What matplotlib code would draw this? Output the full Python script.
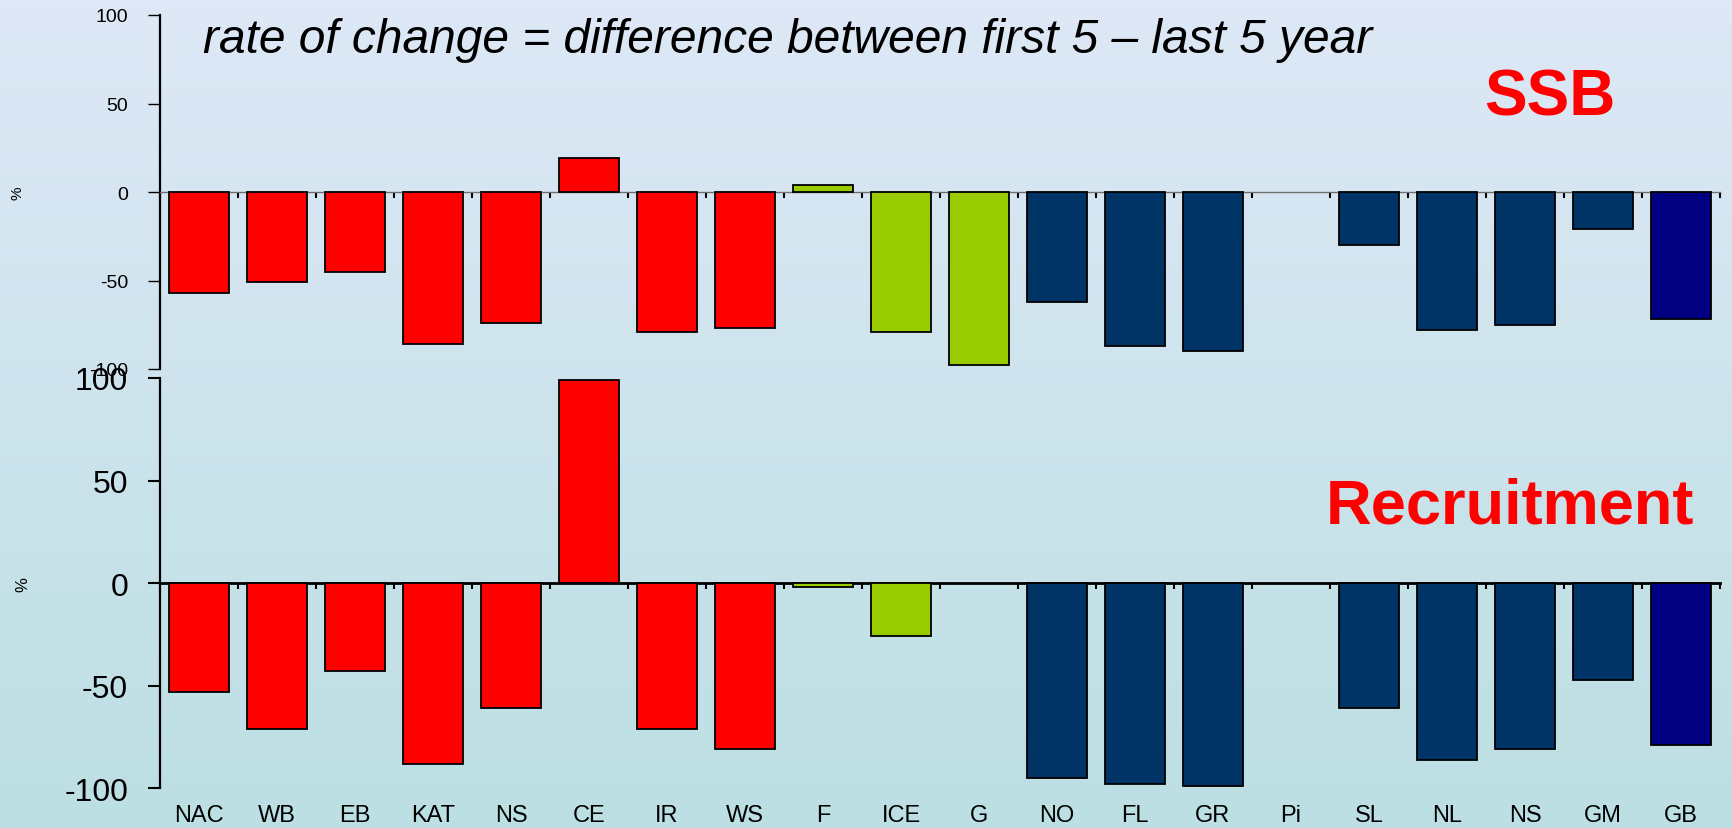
import numpy as np
import matplotlib
matplotlib.use("Agg")
import matplotlib.pyplot as plt
from matplotlib.colors import to_rgb

plt.rcParams.update({
    "font.family": "Liberation Sans",
    "axes.unicode_minus": False,
})

# stocks and their rate of change (%), first 5 vs last 5 years
stocks = ["NAC", "WB", "EB", "KAT", "NS", "CE", "IR", "WS", "F", "ICE",
          "G", "NO", "FL", "GR", "Pi", "SL", "NL", "NS", "GM", "GB"]
ssb = [-57, -51, -45, -86, -74, 19, -79, -77, 4, -79,
       -98, -62, -87, -90, np.nan, -30, -78, -75, -21, -72]
recruitment = [-53, -71, -43, -88, -61, 99, -71, -81, -2, -26,
               np.nan, -95, -98, -99, np.nan, -61, -86, -81, -47, -79]
region = ["south"] * 8 + ["north"] * 3 + ["east"] * 8 + ["gb"]
yticks = [-100, -50, 0, 50, 100]

regionColors = {"south": "#ff0000", "north": "#99cc00", "east": "#003366", "gb": "#000080"}
colors = [regionColors[r] for r in region]

W, H = 1733, 829
fig = plt.figure(figsize=(W / 100, H / 100), dpi=100)

# gradient background
bg = fig.add_axes([0, 0, 1, 1], zorder=-10)
top, bottom = np.array(to_rgb("#dee8f6")), np.array(to_rgb("#bcdfe3"))
t = np.linspace(0, 1, 256)[:, None, None]
bg.imshow(top * (1 - t) + bottom * t, aspect="auto", extent=[0, 1, 0, 1])
bg.axis("off")

left, width = 160 / W, 1560 / W
ax1 = fig.add_axes([left, 1 - 370 / H, width, 354 / H])
ax2 = fig.add_axes([left, 1 - 789.3 / H, width, 410.3 / H])

x = np.arange(len(stocks)) + 0.5

for ax, values, small in [(ax1, ssb, True), (ax2, recruitment, False)]:
    ax.set_facecolor("none")
    ax.bar(x, values, width=0.78, color=colors, edgecolor="black",
           linewidth=1.3, zorder=3)

    ax.set_xlim(0, len(stocks))
    ax.set_ylim(-100, 100)
    ax.set_yticks(yticks)

    for s in ["top", "right"]:
        ax.spines[s].set_visible(False)
    ax.spines["bottom"].set_position(("data", 0))
    ax.spines["left"].set_linewidth(1.6)

    ax.set_xticks(np.arange(len(stocks) + 1))
    ax.set_xticklabels([])
    ax.tick_params(axis="x", direction="out", length=4, width=1.5)

    if small:
        ax.spines["bottom"].set_color("#707070")
        ax.spines["bottom"].set_linewidth(1.0)
        ax.tick_params(axis="y", labelsize=14, length=9, width=1.0, pad=14)
        ax.set_ylabel("%", fontsize=11)
        ax.yaxis.set_label_coords(-0.087, 0.5)
    else:
        ax.spines["bottom"].set_linewidth(2.0)
        ax.tick_params(axis="y", labelsize=23, length=9, width=1.5, pad=14)
        ax.set_ylabel("%", fontsize=12)
        ax.yaxis.set_label_coords(-0.083, 0.5)

sec = ax2.secondary_xaxis("bottom")
sec.set_xticks(x, labels=stocks)
sec.tick_params(length=0, pad=11, labelsize=17)
sec.spines["bottom"].set_visible(False)

fig.text(203 / W, 1 - 53 / H, "rate of change = difference between first 5 \u2013 last 5 year",
         fontsize=34.5, style="italic", va="baseline", ha="left")
fig.text(1550 / W, 1 - 115 / H, "SSB", fontsize=46, fontweight="bold",
         color="#ff0000", va="baseline", ha="center")
fig.text(1326 / W, 1 - 523 / H, "Recruitment", fontsize=45.5, fontweight="bold",
         color="#ff0000", va="baseline", ha="left")

fig.savefig("out.png", dpi=100)
